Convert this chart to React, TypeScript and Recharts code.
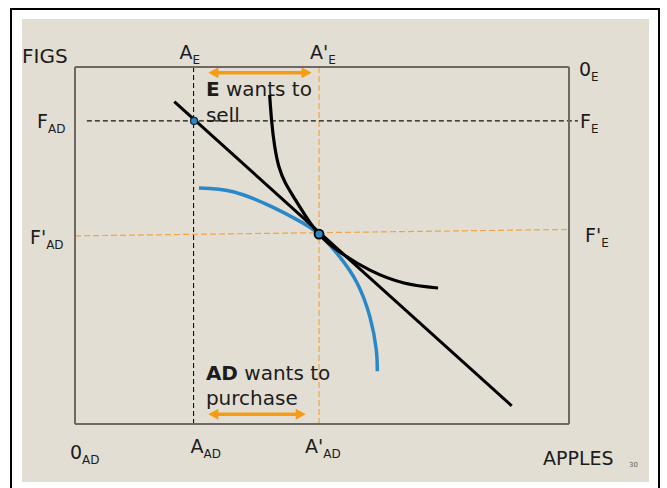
import React from 'react';
import { ComposedChart, Line, XAxis, YAxis, ReferenceLine, ReferenceDot } from 'recharts';

// ---------- data (box scale: apples 0-100 left→right, figs 0-100 bottom→top) ----------
const appleBottomTicks = [0, 24, 49.4];
const appleBottomLabels = [['0', 'AD'], ['A', 'AD'], ["A'", 'AD']];
const appleTopTicks = [24, 49.4];
const appleTopLabels = [['A', 'E'], ["A'", 'E']];
const figLeftTicks = [84.9, 53.2];
const figLeftLabels = [['F', 'AD'], ["F'", 'AD']];
const figRightTicks = [100, 84.9, 53.2];
const figRightLabels = [['0', 'E'], ['F', 'E'], ["F'", 'E']];

const budgetX = [20.1, 88.4];
const budgetY = [90.3, 5.1];

const eCurveX = [39.4, 39.8, 40.4, 41.3, 42.6, 44.3, 46.8, 49.4, 53.6, 59.7, 66.6, 73.5];
const eCurveY = [92.2, 85.0, 78.0, 72.0, 67.5, 63.5, 58.0, 53.2, 48.2, 43.1, 39.5, 38.1];

const adCurveX = [25.1, 32.2, 39.9, 45.1, 49.4, 53.6, 57.1, 59.7, 61.0, 61.2];
const adCurveY = [66.1, 65.0, 60.8, 57.1, 53.2, 46.8, 39.5, 30.0, 20.7, 14.8];

const endowment = { x: 24.1, y: 84.9 };
const equilibrium = { x: 49.4, y: 53.2 };

const oldFigLineX = [2.4, 101.8];
const newFigLineY = [52.7, 54.5];

const sellArrowX = [27.0, 47.9];
const sellArrowY = 98.4;
const buyArrowX = [27.0, 46.7];
const buyArrowY = 2.7;

const sellNote = [[['E', true], [' wants to', false]], [['sell', false]]];
const buyNote = [[['AD', true], [' wants to', false]], [['purchase', false]]];

// ---------- styles ----------
const W = 667;
const H = 488;
const FONT = '"DejaVu Sans", "Liberation Sans", sans-serif';
const INK = '#1c1c1c';
const BEIGE = '#e3ded3';
const BOX = '#6e6a63';
const ORANGE = '#f59b14';
const ORANGE_DASH = '#efa445';
const BLUE = '#2a88c9';

// label nudges (px, relative to the tick point)
const bottomNudge = [[-5, 35], [-3, 29], [-14, 29]];
const topNudge = [[-14, -8], [-9, -8]];
const leftNudge = [[-38, 7], [-45, 10]];
const rightNudge = [[10, 9], [11, 7], [16, 8]];

const xy = (xs: number[], ys: number[]) => xs.map((x, i) => ({ x, y: ys[i] }));
const budgetData = xy(budgetX, budgetY);
const eData = xy(eCurveX, eCurveY);
const adData = xy(adCurveX, adCurveY);

function makeTick(ticks: number[], labels: string[][], nudges: number[][]) {
  return (props: any) => {
    const { x, y, payload } = props;
    const i = ticks.indexOf(payload.value);
    if (i < 0) return <g />;
    const [main, sub] = labels[i];
    const [dx, dy] = nudges[i];
    return (
      <text x={x + dx} y={y + dy} fontFamily={FONT} fontSize={19} fill={INK}>
        {main}
        <tspan fontSize={12} dy={5}>{sub}</tspan>
      </text>
    );
  };
}

function arrowShape(note: any[], noteDx: number, noteDy: number[]) {
  return (p: any) => {
    const { x1, y1, x2, y2 } = p;
    const head = 10;
    const half = 5.5;
    return (
      <g>
        <line x1={x1 + head - 1} y1={y1} x2={x2 - head + 1} y2={y2} stroke={ORANGE} strokeWidth={3.5} />
        <polygon points={`${x1},${y1} ${x1 + head},${y1 - half} ${x1 + head},${y1 + half}`} fill={ORANGE} />
        <polygon points={`${x2},${y2} ${x2 - head},${y2 - half} ${x2 - head},${y2 + half}`} fill={ORANGE} />
        {note.map((line: any[], li: number) => (
          <text key={li} x={x1 + noteDx} y={y1 + noteDy[li]} fontFamily={FONT} fontSize={20} fill={INK}>
            {line.map((seg: any[], si: number) => (
              <tspan key={si} fontWeight={seg[1] ? 'bold' : 'normal'}>{seg[0]}</tspan>
            ))}
          </text>
        ))}
      </g>
    );
  };
}

const figsLabel = (props: any) => {
  const vb = props.viewBox || { x: 74, y: 67 };
  return (
    <text x={vb.x - 52} y={vb.y - 4} fontFamily={FONT} fontSize={20} fill={INK}>FIGS</text>
  );
};

const applesLabel = (props: any) => {
  const vb = props.viewBox || { x: 75, y: 424, width: 494 };
  return (
    <g>
      <text x={vb.x + vb.width - 26} y={vb.y + 41} fontFamily={FONT} fontSize={19} fill={INK}>APPLES</text>
      <text x={vb.x + vb.width + 60} y={vb.y + 43} fontFamily={FONT} fontSize={7} fill="#666">30</text>
    </g>
  );
};

const axisLine = { stroke: BOX, strokeWidth: 2 };

export default function App() {
  return (
    <div style={{ width: W - 16, height: H - 16 }}>
      <div style={{ position: 'fixed', left: 10, top: 8, width: 646, height: 500, border: '2px solid #000' }} />
      <div style={{ position: 'fixed', left: 22, top: 19, width: 627, height: 463, background: BEIGE }} />
      <div style={{ position: 'fixed', left: 0, top: 0 }}>
        <ComposedChart width={W} height={H} margin={{ top: 66, right: 97, bottom: 63, left: 74 }}>
          <XAxis xAxisId="b" type="number" dataKey="x" domain={[0, 100]} allowDataOverflow height={1}
            ticks={appleBottomTicks} interval={0} tickSize={0} tickMargin={0} tickLine={false} axisLine={axisLine}
            tick={makeTick(appleBottomTicks, appleBottomLabels, bottomNudge)}
            label={{ content: applesLabel }} />
          <XAxis xAxisId="t" orientation="top" type="number" dataKey="x" domain={[0, 100]} allowDataOverflow height={1}
            ticks={appleTopTicks} interval={0} tickSize={0} tickMargin={0} tickLine={false} axisLine={axisLine}
            tick={makeTick(appleTopTicks, appleTopLabels, topNudge)} />
          <YAxis yAxisId="l" type="number" dataKey="y" domain={[0, 100]} allowDataOverflow width={1}
            ticks={figLeftTicks} interval={0} tickSize={0} tickMargin={0} tickLine={false} axisLine={axisLine}
            tick={makeTick(figLeftTicks, figLeftLabels, leftNudge)}
            label={{ content: figsLabel }} />
          <YAxis yAxisId="r" orientation="right" type="number" dataKey="y" domain={[0, 100]} allowDataOverflow width={1}
            ticks={figRightTicks} interval={0} tickSize={0} tickMargin={0} tickLine={false} axisLine={axisLine}
            tick={makeTick(figRightTicks, figRightLabels, rightNudge)} />

          <ReferenceLine xAxisId="b" yAxisId="l" x={appleTopTicks[0]} stroke="#111" strokeWidth={1.1} strokeDasharray="5 3" />
          <ReferenceLine xAxisId="b" yAxisId="l" x={appleTopTicks[1]} stroke={ORANGE_DASH} strokeWidth={1.2} strokeDasharray="6 3" />
          <ReferenceLine xAxisId="b" yAxisId="l" ifOverflow="visible"
            segment={[{ x: oldFigLineX[0], y: figLeftTicks[0] }, { x: oldFigLineX[1], y: figLeftTicks[0] }]}
            stroke="#111" strokeWidth={1.1} strokeDasharray="5 3" />
          <ReferenceLine xAxisId="b" yAxisId="l" ifOverflow="visible"
            segment={[{ x: 0, y: newFigLineY[0] }, { x: 100, y: newFigLineY[1] }]}
            stroke={ORANGE_DASH} strokeWidth={1.2} strokeDasharray="6 3" />

          <ReferenceLine xAxisId="b" yAxisId="l"
            segment={[{ x: sellArrowX[0], y: sellArrowY }, { x: sellArrowX[1], y: sellArrowY }]}
            shape={arrowShape(sellNote, -2.5, [23.5, 49])} />
          <ReferenceLine xAxisId="b" yAxisId="l"
            segment={[{ x: buyArrowX[0], y: buyArrowY }, { x: buyArrowX[1], y: buyArrowY }]}
            shape={arrowShape(buyNote, -2.5, [-34, -9])} />

          <Line xAxisId="b" yAxisId="l" data={adData} dataKey="y" type="natural" stroke={BLUE} strokeWidth={3.5}
            dot={false} activeDot={false} isAnimationActive={false} />
          <Line xAxisId="b" yAxisId="l" data={eData} dataKey="y" type="natural" stroke="#000" strokeWidth={3.2}
            dot={false} activeDot={false} isAnimationActive={false} />
          <Line xAxisId="b" yAxisId="l" data={budgetData} dataKey="y" type="linear" stroke="#000" strokeWidth={3}
            dot={false} activeDot={false} isAnimationActive={false} />

          <ReferenceDot xAxisId="b" yAxisId="l" x={endowment.x} y={endowment.y} r={3.5} fill={BLUE} stroke="#123" strokeWidth={1.2} />
          <ReferenceDot xAxisId="b" yAxisId="l" x={equilibrium.x} y={equilibrium.y} r={4.5} fill={BLUE} stroke="#000" strokeWidth={1.8} />
        </ComposedChart>
      </div>
    </div>
  );
}
